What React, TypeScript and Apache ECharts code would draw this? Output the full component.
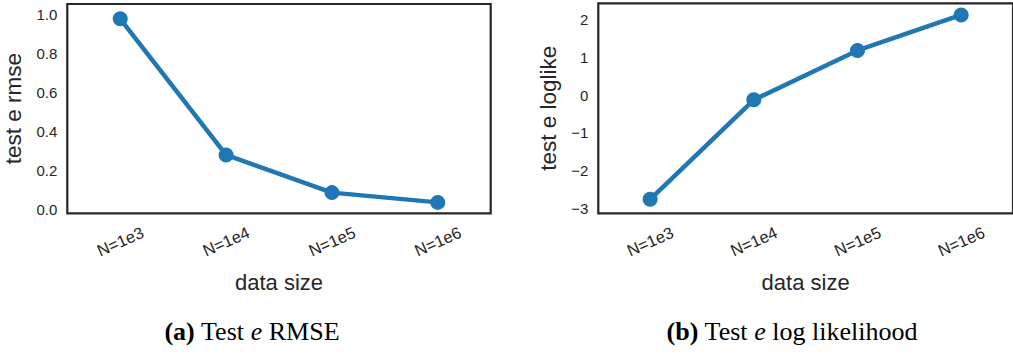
import React, { useEffect, useRef } from "react";
import * as echarts from "echarts";

const categories = ["N=1e3", "N=1e4", "N=1e5", "N=1e6"];
const rmseValues = [0.98, 0.282, 0.089, 0.039];
const loglikeValues = [-2.76, -0.12, 1.19, 2.13];
const xAxisTitle = "data size";
const rmseAxisTitle = "test e rmse";
const loglikeAxisTitle = "test e loglike";

const BLUE = "#1f77b4";
const DARK = "#262626";
const SANS = "'Liberation Sans', Arial, sans-serif";
const SERIF = "'Liberation Serif', 'Times New Roman', serif";

export default function App() {
  const ref = useRef<HTMLDivElement>(null);
  useEffect(() => {
    if (!ref.current) return;
    const chart = echarts.init(ref.current, undefined, { renderer: "svg" });
    const xAxisCommon = (gridIndex: number) => ({
      type: "category" as const,
      gridIndex,
      data: categories,
      boundaryGap: true,
      axisLine: { show: false },
      axisTick: { show: false },
      splitLine: { show: false },
      axisLabel: {
        rotate: 24,
        align: "center",
        verticalAlign: "middle",
        margin: 28,
        fontSize: 16.5,
        color: DARK,
        fontFamily: SANS,
      },
      name: xAxisTitle,
      nameLocation: "middle" as const,
      nameGap: 58,
      nameTextStyle: { fontSize: 22, color: DARK, fontFamily: SANS },
    });
    const seriesCommon = {
      type: "line" as const,
      symbol: "circle",
      symbolSize: 15,
      lineStyle: { color: BLUE, width: 4.5 },
      itemStyle: { color: BLUE },
    };
    chart.setOption({
      animation: false,
      grid: [
        {
          left: 67.3, top: 4, width: 423.4, height: 209.3,
          show: true, borderColor: DARK, borderWidth: 2.2, backgroundColor: "transparent",
        },
        {
          left: 598.3, top: 3.3, width: 424, height: 210,
          show: true, borderColor: DARK, borderWidth: 2.2, backgroundColor: "transparent",
        },
      ],
      xAxis: [xAxisCommon(0), xAxisCommon(1)],
      yAxis: [
        {
          type: "value",
          gridIndex: 0,
          min: -0.017,
          max: 1.056,
          axisLine: { show: false },
          axisTick: { show: false },
          splitLine: { show: false },
          axisLabel: {
            margin: 10,
            fontSize: 15,
            color: DARK,
            fontFamily: SANS,
            showMinLabel: false,
            showMaxLabel: false,
            formatter: (v: number) => {
              const k = v / 0.2;
              return Math.abs(k - Math.round(k)) < 1e-6 ? v.toFixed(1) : "";
            },
          },
          name: rmseAxisTitle,
          nameLocation: "middle",
          nameGap: 42,
          nameTextStyle: { fontSize: 22.5, color: DARK, fontFamily: SANS },
        },
        {
          type: "value",
          gridIndex: 1,
          min: -3.13,
          max: 2.44,
          axisLine: { show: false },
          axisTick: { show: false },
          splitLine: { show: false },
          axisLabel: {
            margin: 10,
            fontSize: 15,
            color: DARK,
            fontFamily: SANS,
            showMinLabel: false,
            showMaxLabel: false,
            formatter: (v: number) =>
              Math.abs(v - Math.round(v)) < 1e-6 ? String(Math.round(v)).replace("-", "\u2212") : "",
          },
          name: loglikeAxisTitle,
          nameLocation: "middle",
          nameGap: 38,
          nameTextStyle: { fontSize: 22.5, color: DARK, fontFamily: SANS },
        },
      ],
      series: [
        { ...seriesCommon, xAxisIndex: 0, yAxisIndex: 0, data: rmseValues },
        { ...seriesCommon, xAxisIndex: 1, yAxisIndex: 1, data: loglikeValues },
      ],
      graphic: [
        {
          type: "text",
          x: 252,
          y: 331,
          style: {
            text: "{b|(a)} Test {i|e} RMSE",
            fontFamily: SERIF,
            fontSize: 26,
            fill: "#000",
            textAlign: "center",
            textVerticalAlign: "middle",
            rich: {
              b: { fontWeight: "bold", fontFamily: SERIF, fontSize: 26, fill: "#000" },
              i: { fontStyle: "italic", fontFamily: SERIF, fontSize: 26, fill: "#000" },
            },
          },
        },
        {
          type: "text",
          x: 792,
          y: 331,
          style: {
            text: "{b|(b)} Test {i|e} log likelihood",
            fontFamily: SERIF,
            fontSize: 26,
            fill: "#000",
            textAlign: "center",
            textVerticalAlign: "middle",
            rich: {
              b: { fontWeight: "bold", fontFamily: SERIF, fontSize: 26, fill: "#000" },
              i: { fontStyle: "italic", fontFamily: SERIF, fontSize: 26, fill: "#000" },
            },
          },
        },
      ],
    });
    return () => chart.dispose();
  }, []);
  return (
    <div
      ref={ref}
      style={{ position: "fixed", left: 0, top: 0, width: 1013, height: 354, background: "#fff" }}
    />
  );
}
